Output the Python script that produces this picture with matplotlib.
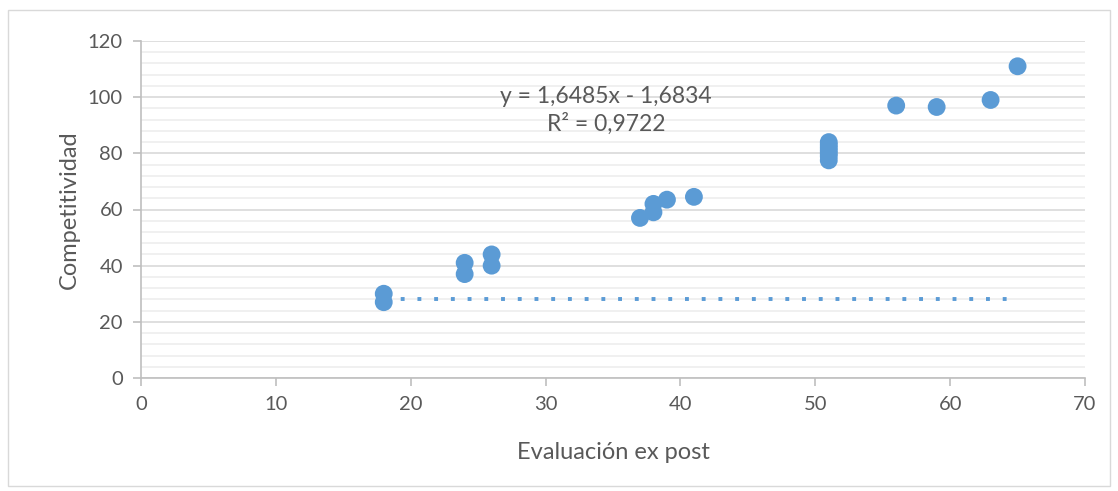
import matplotlib
matplotlib.use("Agg")
import matplotlib.pyplot as plt
from matplotlib.ticker import MultipleLocator
from matplotlib.patches import Rectangle

plt.rcParams['font.family'] = ['Lato', 'DejaVu Sans']

# Data
evaluacion = [18, 18, 24, 24, 26, 26, 37, 38, 38, 39, 41,
              51, 51, 51, 51, 51, 51, 51, 56, 59, 63, 65]
competitividad = [30, 27, 41, 37, 44, 40, 57, 62, 59, 63.5, 64.5,
                  84, 83, 82, 81, 80, 79, 77.5, 97, 96.5, 99, 111]
trend_x = [18, 65]
trend_y = [28, 28]
equation = "y = 1,6485x - 1,6834\nR² = 0,9722"

blue = '#5B9BD5'
text_gray = '#595959'
axis_gray = '#BFBFBF'
grid_major = '#D9D9D9'
grid_minor = '#EDEDED'

fig = plt.figure(figsize=(11.18, 4.91), dpi=100)
fig.patches.append(Rectangle((8/1118, 5/491), 1102/1118, 476/491, transform=fig.transFigure,
                             fill=False, edgecolor='#D9D9D9', linewidth=1))
ax = fig.add_axes([141/1118, 113/491, 944/1118, 337/491])

ax.set_xlim(0, 70)
ax.set_ylim(0, 120)
ax.xaxis.set_major_locator(MultipleLocator(10))
ax.yaxis.set_major_locator(MultipleLocator(20))
ax.yaxis.set_minor_locator(MultipleLocator(4))

ax.grid(which='major', axis='y', color=grid_major, linewidth=1.2)
ax.grid(which='minor', axis='y', color=grid_minor, linewidth=1.2)
ax.set_axisbelow(True)

for s in ['top', 'right']:
    ax.spines[s].set_visible(False)
for s in ['left', 'bottom']:
    ax.spines[s].set_color(axis_gray)
    ax.spines[s].set_linewidth(1.2)

ax.tick_params(which='major', length=6, width=1.2, color=axis_gray, labelcolor=text_gray,
               labelsize=14.5, pad=7)
ax.tick_params(which='minor', length=0)

ax.plot(trend_x, trend_y, linestyle=(0, (1, 3.3)), color=blue, linewidth=2.8, zorder=2)
ax.scatter(evaluacion, competitividad, s=165, color=blue, edgecolors='none', zorder=3)

ax.text(34.5, 95.2, equation, ha='center', va='center', fontsize=16.5, color=text_gray,
        linespacing=1.32)

ax.set_xlabel('Evaluación ex post', fontsize=17, color=text_gray, labelpad=21)
ax.set_ylabel('Competitividad', fontsize=17, color=text_gray, labelpad=6)

fig.savefig('out.png', dpi=100)
